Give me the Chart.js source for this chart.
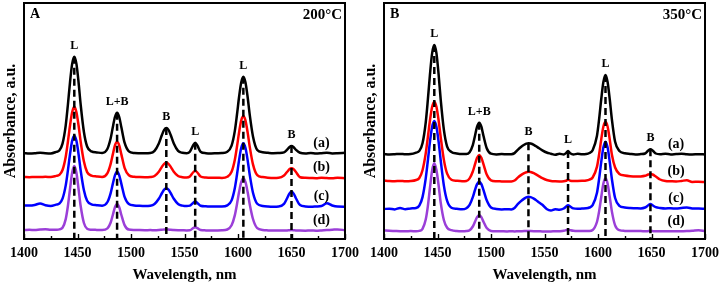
<!DOCTYPE html>
<html><head><meta charset="utf-8">
<script src="https://cdn.jsdelivr.net/npm/chart.js@4.4.1/dist/chart.umd.min.js"></script>
<style>
html,body{margin:0;padding:0;background:#fff;}
#wrap{position:relative;width:721px;height:285px;overflow:hidden;}
canvas{position:absolute;top:0;}
#cA{left:0;} #cB{left:360px;}
</style></head><body>
<div id="wrap"><canvas id="cA" width="360" height="285"></canvas><canvas id="cB" width="361" height="285"></canvas></div>
<script>
// ---------- DATA ----------
const xA = [1400,1405,1410,1415,1420,1425,1430,1433,1436,1439,
1441,1443,1445,1447,1449,1451,1453,1456,1459,1463,
1468,1473,1478,1481,1483,1485,1487,1489,1491,1494,
1498,1503,1508,1513,1518,1522,1526,1529,1531,1533,
1535,1537,1540,1544,1548,1552,1555,1558,1560,1562,
1565,1570,1575,1580,1585,1590,1594,1597,1599,1601,
1603,1605,1607,1609,1611,1614,1618,1623,1628,1633,
1638,1643,1646,1648,1650,1652,1654,1658,1663,1668,
1673,1678,1683,1688,1693,1700];
const a200 = [0.858,0.855,0.857,0.862,0.858,0.856,0.871,0.886,0.954,1.137,
1.340,1.567,1.751,1.823,1.751,1.567,1.340,1.070,0.925,0.876,
0.866,0.860,0.902,1.007,1.117,1.220,1.263,1.220,1.117,0.963,
0.877,0.860,0.858,0.857,0.860,0.882,0.956,1.043,1.091,1.110,
1.091,1.043,0.956,0.882,0.862,0.858,0.873,0.935,0.963,0.935,
0.873,0.858,0.856,0.858,0.860,0.872,0.934,1.079,1.240,1.420,
1.566,1.623,1.566,1.420,1.240,1.026,0.891,0.868,0.862,0.858,
0.860,0.866,0.894,0.918,0.930,0.918,0.894,0.862,0.856,0.860,
0.855,0.858,0.862,0.856,0.858,0.862];
const b200 = [0.620,0.618,0.621,0.619,0.622,0.620,0.631,0.641,0.690,0.823,
0.970,1.135,1.268,1.323,1.268,1.135,0.970,0.774,0.669,0.634,
0.625,0.620,0.659,0.751,0.846,0.936,0.973,0.936,0.846,0.712,
0.638,0.622,0.619,0.618,0.620,0.630,0.673,0.724,0.752,0.763,
0.752,0.724,0.673,0.630,0.618,0.615,0.625,0.665,0.683,0.665,
0.625,0.614,0.612,0.613,0.611,0.622,0.672,0.790,0.920,1.066,
1.184,1.230,1.184,1.066,0.920,0.746,0.638,0.619,0.613,0.610,
0.612,0.635,0.672,0.697,0.707,0.697,0.672,0.618,0.612,0.610,
0.608,0.612,0.610,0.607,0.612,0.608];
const c200 = [0.336,0.334,0.340,0.356,0.338,0.331,0.344,0.354,0.403,0.536,
0.683,0.848,0.981,1.033,0.981,0.848,0.683,0.487,0.382,0.347,
0.338,0.333,0.370,0.459,0.551,0.637,0.673,0.637,0.551,0.421,
0.350,0.336,0.332,0.330,0.333,0.350,0.402,0.460,0.494,0.507,
0.494,0.460,0.402,0.350,0.334,0.329,0.333,0.361,0.374,0.361,
0.333,0.327,0.324,0.326,0.324,0.336,0.386,0.507,0.640,0.789,
0.910,0.957,0.910,0.789,0.640,0.463,0.352,0.331,0.325,0.323,
0.325,0.351,0.410,0.454,0.473,0.454,0.410,0.339,0.326,0.322,
0.325,0.330,0.358,0.335,0.324,0.323];
const d200 = [0.090,0.092,0.090,0.095,0.098,0.092,0.093,0.096,0.112,0.199,
0.327,0.500,0.663,0.730,0.663,0.500,0.327,0.160,0.103,0.093,
0.091,0.090,0.106,0.165,0.240,0.317,0.350,0.317,0.240,0.139,
0.094,0.091,0.089,0.088,0.089,0.088,0.090,0.093,0.095,0.096,
0.095,0.092,0.090,0.088,0.087,0.086,0.087,0.108,0.117,0.108,
0.090,0.086,0.085,0.086,0.087,0.095,0.137,0.236,0.346,0.469,
0.568,0.607,0.568,0.469,0.346,0.200,0.108,0.090,0.086,0.085,
0.084,0.084,0.086,0.088,0.089,0.088,0.086,0.084,0.083,0.085,
0.083,0.086,0.090,0.092,0.096,0.088];

const xB = [1400,1405,1410,1415,1420,1425,1430,1433,1436,1439,
1441,1443,1445,1447,1449,1451,1453,1456,1459,1463,
1468,1473,1477,1480,1483,1485,1487,1489,1491,1493,
1496,1500,1505,1510,1515,1519,1522,1525,1528,1531,
1533,1535,1537,1540,1544,1548,1552,1556,1560,1564,
1568,1570,1572,1574,1577,1581,1585,1589,1592,1595,
1599,1601,1603,1605,1607,1609,1611,1613,1616,1620,
1625,1630,1635,1640,1644,1647,1649,1651,1654,1658,
1663,1668,1673,1678,1683,1688,1694,1700];
const a350 = [0.850,0.846,0.848,0.851,0.847,0.849,0.864,0.881,0.957,1.165,
1.394,1.651,1.859,1.940,1.859,1.651,1.394,1.088,0.924,0.870,
0.856,0.850,0.850,0.868,0.939,1.030,1.123,1.163,1.123,1.030,
0.908,0.853,0.846,0.849,0.847,0.848,0.859,0.892,0.920,0.942,
0.953,0.958,0.955,0.942,0.914,0.887,0.865,0.853,0.842,0.852,
0.846,0.858,0.880,0.858,0.846,0.852,0.848,0.850,0.860,0.888,
1.030,1.194,1.395,1.568,1.640,1.568,1.395,1.194,0.972,0.880,
0.858,0.851,0.846,0.849,0.855,0.885,0.897,0.885,0.855,0.848,
0.852,0.846,0.850,0.853,0.847,0.845,0.848,0.846];
const b350 = [0.585,0.580,0.578,0.581,0.577,0.579,0.590,0.610,0.688,0.856,
1.018,1.190,1.322,1.373,1.322,1.190,1.018,0.789,0.653,0.593,
0.582,0.578,0.580,0.606,0.675,0.746,0.812,0.840,0.812,0.746,
0.645,0.587,0.578,0.576,0.574,0.575,0.585,0.614,0.639,0.658,
0.668,0.673,0.670,0.658,0.634,0.609,0.590,0.580,0.577,0.576,
0.578,0.582,0.592,0.583,0.579,0.580,0.582,0.585,0.594,0.615,
0.721,0.843,0.994,1.123,1.173,1.123,0.994,0.843,0.715,0.650,
0.635,0.628,0.625,0.626,0.632,0.645,0.650,0.645,0.625,0.595,
0.580,0.577,0.575,0.580,0.588,0.571,0.573,0.570];
const c350 = [0.300,0.303,0.296,0.310,0.298,0.306,0.310,0.333,0.419,0.606,
0.785,0.976,1.122,1.180,1.122,0.976,0.785,0.531,0.381,0.313,
0.302,0.297,0.308,0.341,0.418,0.489,0.549,0.573,0.549,0.489,
0.387,0.315,0.300,0.296,0.297,0.296,0.310,0.348,0.379,0.404,
0.417,0.423,0.419,0.404,0.373,0.342,0.300,0.285,0.298,0.293,
0.305,0.322,0.338,0.325,0.306,0.302,0.305,0.307,0.315,0.338,
0.459,0.598,0.768,0.914,0.973,0.914,0.768,0.598,0.410,0.332,
0.315,0.310,0.308,0.306,0.315,0.337,0.350,0.337,0.318,0.310,
0.305,0.308,0.304,0.310,0.315,0.306,0.304,0.303];
const d350 = [0.085,0.082,0.080,0.078,0.077,0.079,0.078,0.081,0.102,0.194,
0.329,0.515,0.687,0.757,0.690,0.540,0.364,0.187,0.112,0.088,
0.079,0.077,0.079,0.088,0.125,0.172,0.219,0.240,0.219,0.172,
0.109,0.081,0.078,0.077,0.076,0.077,0.076,0.077,0.078,0.079,
0.080,0.080,0.079,0.078,0.077,0.076,0.075,0.076,0.077,0.078,
0.082,0.088,0.095,0.089,0.082,0.080,0.080,0.081,0.081,0.090,
0.170,0.274,0.418,0.552,0.607,0.552,0.418,0.274,0.136,0.088,
0.081,0.080,0.079,0.079,0.078,0.079,0.080,0.079,0.078,0.078,
0.077,0.078,0.077,0.078,0.079,0.082,0.088,0.080];

const peaksA = [1447,1487,1533,1560,1605,1650];
const peaksB = [1447,1489,1535,1572,1607,1649];
const peakLabels = ['L','L+B','B','L','L','B'];
const curveTags = ['(a)','(b)','(c)','(d)'];
const xTickLabels = [1400,1450,1500,1550,1600,1650,1700];
const xMinorTicks = [1425,1475,1525,1575,1625,1675];

// ---------- STYLE ----------
const FF = '"Liberation Serif","Times New Roman",Times,serif';
const COLORS = ['#000000','#ff0000','#0000ff','#9b3fd8'];

function valueAt(xs, ys, xv){
  let best = 0;
  for (let i = 0; i < xs.length; i++) if (Math.abs(xs[i]-xv) < Math.abs(xs[best]-xv)) best = i;
  return ys[best];
}

const decor = {
  id: 'decor',
  afterDatasetsDraw(chart, args, o){
    const ctx = chart.ctx, ca = chart.chartArea, sx = chart.scales.x, sy = chart.scales.y;
    ctx.save();
    ctx.strokeStyle = '#000';
    ctx.lineWidth = 2;
    ctx.strokeRect(ca.left, ca.top, ca.right - ca.left, ca.bottom - ca.top);
    ctx.lineWidth = 1.4;
    xMinorTicks.forEach(v => { const p = Math.round(sx.getPixelForValue(v)) + 0.5; ctx.beginPath(); ctx.moveTo(p, ca.bottom); ctx.lineTo(p, ca.bottom - 3); ctx.stroke(); });
    xTickLabels.forEach(v => { const p = Math.round(sx.getPixelForValue(v)) + 0.5; ctx.beginPath(); ctx.moveTo(p, ca.bottom); ctx.lineTo(p, ca.bottom - 5); ctx.stroke(); });
    ctx.fillStyle = '#000';
    ctx.textAlign = 'center';
    ctx.textBaseline = 'middle';
    ctx.font = 'bold 12px ' + FF;
    o.peaks.forEach((p, i) => {
      const v = valueAt(o.xs, o.series[0], p);
      ctx.fillText(peakLabels[i], sx.getPixelForValue(p), sy.getPixelForValue(v) - 11);
    });
    ctx.font = 'bold 14px ' + FF;
    o.series.forEach((s, i) => {
      const v = valueAt(o.xs, s, o.tagX);
      ctx.fillText(curveTags[i], sx.getPixelForValue(o.tagX), sy.getPixelForValue(v) - 10);
    });
    ctx.textAlign = 'left';
    ctx.font = 'bold 14px ' + FF;
    ctx.fillText(o.panel, ca.left + 6, ca.top + 11);
    ctx.textAlign = 'right';
    ctx.font = 'bold 15px ' + FF;
    ctx.fillText(o.temp, ca.right - 3, ca.top + 12);
    ctx.restore();
  }
};

function makeChart(id, xs, series, peaks, panel, temp, tagX, padRight){
  const datasets = [];
  peaks.forEach(p => datasets.push({
    data: [{x: p, y: valueAt(xs, series[0], p)}, {x: p, y: 0}],
    borderColor: '#000', borderWidth: 2.5, borderDash: [7, 4],
    pointRadius: 0, tension: 0, order: 0
  }));
  series.forEach((s, i) => datasets.push({
    data: xs.map((x, j) => ({x: x, y: s[j]})),
    borderColor: COLORS[i], borderWidth: 2.5, pointRadius: 0,
    cubicInterpolationMode: 'monotone', order: 1
  }));
  return new Chart(document.getElementById(id), {
    type: 'line',
    data: {datasets},
    plugins: [decor],
    options: {
      responsive: false, animation: false, devicePixelRatio: 1,
      layout: {padding: {left: 0, right: padRight, top: 3, bottom: 0}},
      plugins: {
        legend: {display: false}, tooltip: {enabled: false},
        decor: {xs, series, peaks, panel, temp, tagX}
      },
      scales: {
        x: {
          type: 'linear', min: 1400, max: 1700,
          afterBuildTicks: s => { s.ticks = xTickLabels.map(v => ({value: v})); },
          ticks: {font: {family: FF, size: 14, weight: 'bold'}, color: '#000', padding: 6, maxRotation: 0, autoSkip: false,
                  callback: v => String(v)},
          grid: {display: false, drawTicks: false},
          border: {display: false},
          title: {display: true, text: 'Wavelength, nm', color: '#000', font: {family: FF, size: 15, weight: 'bold'}, padding: {top: 0, bottom: 1}},
          afterFit: s => { s.height = 46; s.paddingLeft = 0; s.paddingRight = 0; s.paddingTop = 0; s.paddingBottom = 0; }
        },
        y: {
          type: 'linear', min: 0, max: 2.36,
          ticks: {display: false},
          grid: {display: false, drawTicks: false},
          border: {display: false},
          title: {display: true, text: 'Absorbance, a.u.', color: '#000', font: {family: FF, size: 16, weight: 'bold'}, padding: {top: 1, bottom: 0}},
          afterFit: s => { s.width = 24; s.paddingTop = 0; s.paddingBottom = 0; }
        }
      }
    }
  });
}

makeChart('cA', xA, [a200, b200, c200, d200], peaksA, 'A', '200°C', 1678, 15);
makeChart('cB', xB, [a350, b350, c350, d350], peaksB, 'B', '350°C', 1673, 16);
</script>
</body></html>
